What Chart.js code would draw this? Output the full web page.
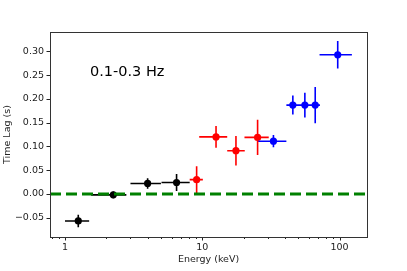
<!DOCTYPE html>
<html><head><meta charset="utf-8">
<script src="https://cdn.jsdelivr.net/npm/chart.js@4/dist/chart.umd.min.js"></script>
<style>html,body{margin:0;padding:0;background:#fff}#wrap{width:407px;height:271px}</style>
</head><body><div id="wrap"><canvas id="c" width="407" height="271"></canvas></div>
<script>
// Data
const blackE   = [1.25, 2.25, 4.0, 6.5];
const blackLo  = [1.0, 1.55, 3.0, 5.05];
const blackHi  = [1.5, 2.8, 5.0, 8.1];
const blackLag = [-0.057, -0.002, 0.022, 0.024];
const blackErr = [0.013, 0.007, 0.011, 0.018];

const redE   = [9.1, 12.6, 17.6, 25.3];
const redLo  = [8.1, 9.5, 15.2, 20.3];
const redHi  = [10.1, 15.2, 20.4, 30.5];
const redLag = [0.030, 0.120, 0.091, 0.119];
const redErr = [0.028, 0.023, 0.031, 0.037];

const blueE   = [33.0, 45.7, 55.9, 66.5, 97.0];
const blueLo  = [25.5, 41.0, 51.0, 60.5, 71.5];
const blueHi  = [41.0, 51.0, 61.0, 72.0, 123.0];
const blueLag = [0.111, 0.187, 0.187, 0.187, 0.293];
const blueErr = [0.013, 0.020, 0.026, 0.038, 0.029];

const xMin = 0.778, xMax = 158.5;
const yMin = -0.0908, yMax = 0.341;
const yTicks = [-0.05, 0.00, 0.05, 0.10, 0.15, 0.20, 0.25, 0.30];
const xMajor = [1, 10, 100];
const annotation = "0.1-0.3 Hz";

function points(E, L){ return E.map((e,i)=>({x:e, y:L[i]})); }
function bars(E, Lo, Hi, L, Err){
  const d = [];
  E.forEach((e,i)=>{
    d.push({x:Lo[i], y:L[i]}, {x:Hi[i], y:L[i]}, {x:Hi[i], y:null});
    d.push({x:e, y:L[i]-Err[i]}, {x:e, y:L[i]+Err[i]}, {x:e, y:null});
  });
  return d;
}
function barSet(d, color){
  return {type:'scatter', data:d, showLine:true, borderColor:color, borderWidth:1.6,
          pointRadius:0, spanGaps:false, fill:false};
}
function markSet(d, color){
  return {type:'scatter', data:d, pointRadius:3.6, pointBackgroundColor:color,
          pointBorderColor:color, pointBorderWidth:0, showLine:false};
}

const FONT = {family:'DejaVu Sans', size:9.5};

const framePlugin = {
  id:'frame',
  afterDraw(chart){
    const ctx = chart.ctx, a = chart.chartArea;
    const xs = chart.scales.x, ys = chart.scales.y;
    ctx.save();
    ctx.strokeStyle = '#222'; ctx.lineWidth = 1;
    ctx.beginPath();
    xs.ticks.forEach(t=>{
      const px = Math.round(xs.getPixelForValue(t.value))+0.5;
      const major = xMajor.includes(t.value);
      const len = major ? 3.5 : 2;
      ctx.moveTo(px, a.bottom); ctx.lineTo(px, a.bottom+len);
    });
    ys.ticks.forEach(t=>{
      const py = Math.round(ys.getPixelForValue(t.value))+0.5;
      ctx.moveTo(a.left, py); ctx.lineTo(a.left-3.5, py);
    });
    ctx.stroke();
    ctx.strokeStyle = '#333';
    ctx.strokeRect(Math.round(a.left)+0.5, Math.round(a.top)+0.5,
                   Math.round(a.right-a.left), Math.round(a.bottom-a.top));
    ctx.fillStyle = '#000';
    ctx.font = '14.5px "DejaVu Sans"';
    ctx.textBaseline = 'alphabetic'; ctx.textAlign = 'left';
    ctx.fillText(annotation, xs.getPixelForValue(1.52), ys.getPixelForValue(0.249));
    ctx.restore();
  }
};

new Chart(document.getElementById('c'), {
  type:'scatter',
  data:{datasets:[
    {type:'scatter', data:[{x:xMin,y:0},{x:xMax,y:0}], showLine:true, borderColor:'#008000',
     borderWidth:3, borderDash:[11,5], pointRadius:0, fill:false},
    barSet(bars(blackE,blackLo,blackHi,blackLag,blackErr), '#000000'),
    barSet(bars(redE,redLo,redHi,redLag,redErr), '#ff0000'),
    barSet(bars(blueE,blueLo,blueHi,blueLag,blueErr), '#0000ff'),
    markSet(points(blackE,blackLag), '#000000'),
    markSet(points(redE,redLag), '#ff0000'),
    markSet(points(blueE,blueLag), '#0000ff'),
  ]},
  options:{
    responsive:false, animation:false, devicePixelRatio:1,
    layout:{padding:{left:0, top:32, right:40, bottom:0}},
    plugins:{legend:{display:false}, tooltip:{enabled:false}},
    scales:{
      x:{type:'logarithmic', min:xMin, max:xMax,
        afterBuildTicks(s){
          const t=[];
          for(let p=-1;p<=2;p++) for(let k=1;k<=9;k++){const v=k*Math.pow(10,p); if(v>=xMin&&v<=xMax) t.push({value:v});}
          s.ticks=t;
        },
        afterFit(s){ s.height = 34; },
        grid:{display:true, drawOnChartArea:false, drawTicks:true, tickLength:4, tickColor:'rgba(0,0,0,0)'},
        border:{display:false},
        ticks:{autoSkip:false, maxRotation:0, padding:1, color:'#222', font:FONT,
          callback(v){ return xMajor.includes(v) ? String(v) : ''; }},
        title:{display:true, text:'Energy (keV)', color:'#222', font:FONT, padding:{top:1,bottom:6}}
      },
      y:{type:'linear', min:yMin, max:yMax,
        afterBuildTicks(s){ s.ticks = yTicks.map(v=>({value:v})); },
        afterFit(s){ s.width = 50; },
        grid:{display:true, drawOnChartArea:false, drawTicks:true, tickLength:4, tickColor:'rgba(0,0,0,0)'},
        border:{display:false},
        ticks:{padding:2, color:'#222', font:FONT,
          callback(v){ return v.toFixed(2).replace('-', '\u2212'); }},
        title:{display:true, text:'Time Lag (s)', color:'#222', font:FONT, padding:{top:2,bottom:0}}
      }
    }
  },
  plugins:[framePlugin]
});
</script></body></html>
